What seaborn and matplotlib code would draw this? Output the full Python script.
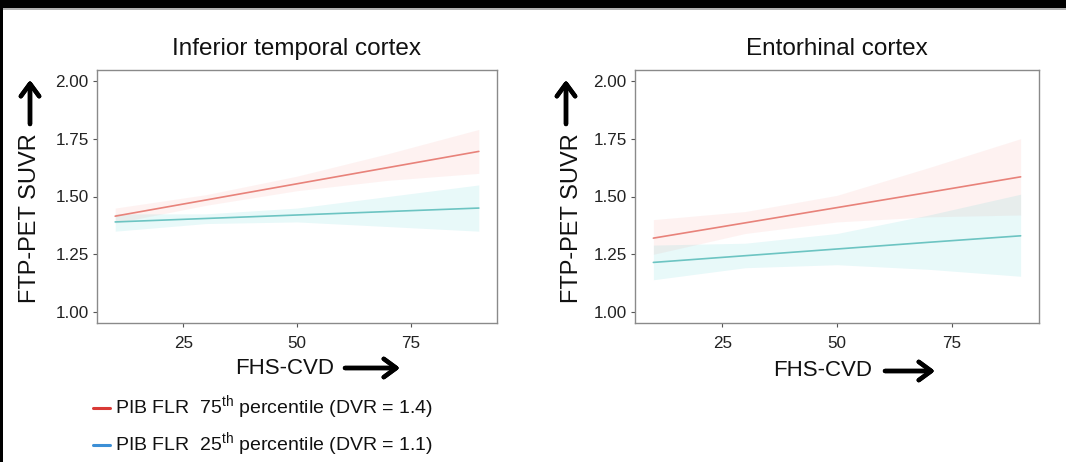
import numpy as np
import pandas as pd
import matplotlib
matplotlib.use("Agg")
import matplotlib.pyplot as plt
from matplotlib.patches import Rectangle
import seaborn as sns

# ======================
# DATA
# ======================
FHS_CVD = [10, 30, 50, 70, 90]

# Inferior temporal cortex
IT_HIGH_FIT = [1.415, 1.485, 1.555, 1.625, 1.695]
IT_HIGH_LO = [1.385, 1.462, 1.525, 1.570, 1.600]
IT_HIGH_HI = [1.450, 1.508, 1.588, 1.685, 1.790]
IT_LOW_FIT = [1.390, 1.405, 1.420, 1.435, 1.450]
IT_LOW_LO = [1.350, 1.383, 1.390, 1.370, 1.350]
IT_LOW_HI = [1.425, 1.425, 1.450, 1.500, 1.550]

# Entorhinal cortex
EC_HIGH_FIT = [1.320, 1.386, 1.452, 1.518, 1.585]
EC_HIGH_LO = [1.250, 1.340, 1.390, 1.412, 1.420]
EC_HIGH_HI = [1.400, 1.435, 1.505, 1.625, 1.750]
EC_LOW_FIT = [1.215, 1.244, 1.273, 1.302, 1.330]
EC_LOW_LO = [1.140, 1.192, 1.205, 1.185, 1.155]
EC_LOW_HI = [1.290, 1.298, 1.340, 1.420, 1.510]

TITLES = ["Inferior temporal cortex", "Entorhinal cortex"]
Y_TICKS = [1.00, 1.25, 1.50, 1.75, 2.00]
X_TICKS = [25, 50, 75]
LEGEND_LABELS = [r"PIB FLR  75$^{\rm th}$ percentile (DVR = 1.4)",
                 r"PIB FLR  25$^{\rm th}$ percentile (DVR = 1.1)"]

RED_LINE, RED_FILL = "#e8827a", "#f8766d"
BLUE_LINE, BLUE_FILL = "#6cc4c2", "#00bfc4"

sns.set_theme(style="white")
plt.rcParams["font.family"] = ["Liberation Sans", "DejaVu Sans"]
plt.rcParams["mathtext.fontset"] = "custom"
plt.rcParams["mathtext.rm"] = "Liberation Sans"

W, H = 1066, 462
fig = plt.figure(figsize=(W / 100, H / 100), dpi=100)


def fx(px):
    return px / W


def fy(py):
    return 1 - py / H


panels = [
    (TITLES[0], IT_HIGH_FIT, IT_HIGH_LO, IT_HIGH_HI, IT_LOW_FIT, IT_LOW_LO, IT_LOW_HI, 97, 400),
    (TITLES[1], EC_HIGH_FIT, EC_HIGH_LO, EC_HIGH_HI, EC_LOW_FIT, EC_LOW_LO, EC_LOW_HI, 635, 404),
]

for title, hf, hl, hh, lf, ll, lh, left, width in panels:
    ax = fig.add_axes([fx(left), fy(323), fx(width), (323 - 70) / H])
    df = pd.DataFrame({
        "x": FHS_CVD * 2,
        "y": hf + lf,
        "grp": ["high"] * len(FHS_CVD) + ["low"] * len(FHS_CVD),
    })
    ax.fill_between(FHS_CVD, hl, hh, color=RED_FILL, alpha=0.09, lw=0)
    ax.fill_between(FHS_CVD, ll, lh, color=BLUE_FILL, alpha=0.09, lw=0)
    sns.lineplot(data=df, x="x", y="y", hue="grp",
                 palette={"high": RED_LINE, "low": BLUE_LINE},
                 lw=1.2, legend=False, ax=ax)
    ax.set_xlim(6, 94)
    ax.set_ylim(0.953, 2.047)
    ax.set_xticks(X_TICKS)
    ax.set_yticks(Y_TICKS)
    ax.set_yticklabels([f"{v:.2f}" for v in Y_TICKS])
    ax.set_xlabel("")
    ax.set_ylabel("")
    ax.set_title(title, fontsize=17.5, pad=11, color="#111111")
    ax.tick_params(axis="both", which="both", length=3, width=0.8, color="#555555",
                   labelsize=12.3, labelcolor="#222222", pad=3, bottom=True, left=True)
    ax.tick_params(axis="x", pad=6)
    for sp in ax.spines.values():
        sp.set_color("#8a8a8a")
        sp.set_linewidth(1.0)

arrow_kw = dict(arrowstyle="->,head_length=0.75,head_width=0.55", lw=3.2, color="black",
                shrinkA=0, shrinkB=0)

# y-axis labels with upward arrows
for tx, ty, ax_x, ay0, ay1 in [(30, 218, 30, 124, 80), (572, 218, 566, 124, 80)]:
    fig.text(fx(tx), fy(ty), "FTP-PET SUVR", rotation=90, ha="center", va="center",
             fontsize=17, color="#111111")
    fig.add_artist(plt.annotate("", xy=(fx(ax_x), fy(ay1)), xytext=(fx(ax_x), fy(ay0)),
                                xycoords="figure fraction", textcoords="figure fraction",
                                arrowprops=arrow_kw))

# x-axis labels with right arrows
for tx, ty, ax0, ax1 in [(285, 368, 345, 400), (823, 371, 885, 935)]:
    fig.text(fx(tx), fy(ty), "FHS-CVD", ha="center", va="center",
             fontsize=16, color="#111111")
    fig.add_artist(plt.annotate("", xy=(fx(ax1), fy(ty)), xytext=(fx(ax0), fy(ty)),
                                xycoords="figure fraction", textcoords="figure fraction",
                                arrowprops=arrow_kw))

# legend
for label, col, ly in [(LEGEND_LABELS[0], "#d93a36", 408), (LEGEND_LABELS[1], "#3c8fd6", 445)]:
    fig.add_artist(plt.Line2D([fx(93), fx(110)], [fy(ly), fy(ly)], color=col, lw=2.2,
                              transform=fig.transFigure))
    fig.text(fx(115), fy(ly), label, ha="left", va="center", fontsize=14, color="#111111")

# black frame at top and left edge of the screenshot
fig.add_artist(Rectangle((0, fy(8)), 1, 8 / H, color="black", transform=fig.transFigure, lw=0))
fig.add_artist(Rectangle((0, fy(9.5)), 1, 1.5 / H, color="#b0b0b0", transform=fig.transFigure, lw=0))
fig.add_artist(Rectangle((0, 0), 3 / W, 1, color="black", transform=fig.transFigure, lw=0))

fig.savefig("out.png", dpi=100)
